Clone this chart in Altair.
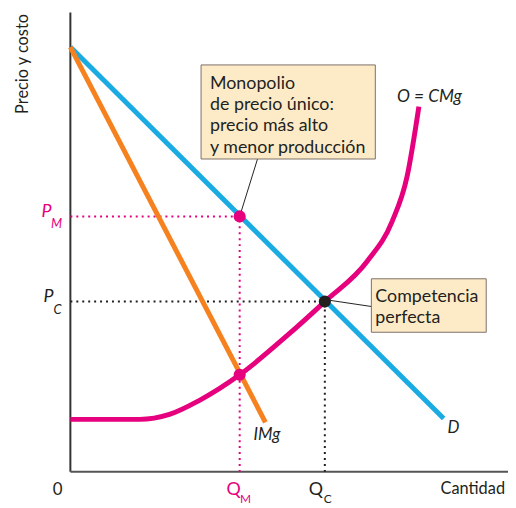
import altair as alt
import pandas as pd

# ---- data (units: quantity / price) ----
d_q = [0, 377]            # demand D
d_p = [429, 54]
mr_q = [0, 197]           # marginal revenue IMg
mr_p = [429, 50]
mc_q = [0, 70, 100, 130, 171, 217, 257, 300, 325, 340, 352]   # O = CMg
mc_p = [53, 53, 58, 72, 98, 136, 172, 213, 253, 298, 369]
q_m, p_m, mr_m = 171, 258, 98
q_c, p_c = 257, 172
box1_lines = ["Monopolio", "de precio único:", "precio más alto", "y menor producción"]
box2_lines = ["Competencia", "perfecta"]

XMAX, YMAX = 438, 464
FONT = "Lato"
BLUE, ORANGE, PINK, INK = "#1AABE3", "#F5821F", "#E6007E", "#231F20"

xs = alt.Scale(domain=[0, XMAX], nice=False, zero=False)
ys = alt.Scale(domain=[0, YMAX], nice=False, zero=False)


def X(f="x"):
    return alt.X(f, type="quantitative", scale=xs, axis=None)


def Y(f="y"):
    return alt.Y(f, type="quantitative", scale=ys, axis=None)


def seg(x1, y1, x2, y2, color, width=1.0, dash=None):
    df = pd.DataFrame({"x": [x1], "y": [y1], "x2": [x2], "y2": [y2]})
    kw = dict(color=color, strokeWidth=width)
    if dash:
        kw["strokeDash"] = dash
    return alt.Chart(df).mark_rule(**kw).encode(
        x=X(), y=Y(), x2="x2:Q", y2="y2:Q")


def line(qs, ps, color, interp="linear"):
    df = pd.DataFrame({"x": qs, "y": ps, "o": range(len(qs))})
    return alt.Chart(df).mark_line(color=color, strokeWidth=5, interpolate=interp,
                                   strokeCap="butt").encode(
        x=X(), y=Y(), order="o:Q")


def txt(x, y, s, color=INK, size=17, italic=False, align="left", baseline="middle", angle=0):
    df = pd.DataFrame({"x": [x], "y": [y], "t": [s]})
    kw = dict(color=color, fontSize=size, font=FONT, align=align, baseline=baseline)
    if italic:
        kw["fontStyle"] = "italic"
    if angle:
        kw["angle"] = angle
    return alt.Chart(df).mark_text(**kw).encode(x=X(), y=Y(), text="t:N")


def box(x1, y1, x2, y2):
    df = pd.DataFrame({"x": [x1], "y": [y1], "x2": [x2], "y2": [y2]})
    return alt.Chart(df).mark_rect(fill="#FDEBC8", stroke="#7d7066", strokeWidth=1).encode(
        x=X(), y=Y(), x2="x2:Q", y2="y2:Q")


layers = [
    # axes
    seg(0, 0, 0, YMAX, "#333333", 2),
    seg(0, 0, 442, 0, "#555555", 2),
    # guide lines
    seg(0, p_m, q_m, p_m, PINK, 2, [2, 4]),
    seg(q_m, 0, q_m, p_m, PINK, 2, [2, 4]),
    seg(0, p_c, q_c, p_c, INK, 2, [2, 4]),
    seg(q_c, 0, q_c, p_c, INK, 2, [2, 4]),
    # curves
    line(mc_q, mc_p, PINK, "monotone"),
    line(d_q, d_p, BLUE),
    line(mr_q, mr_p, ORANGE),
    # leader lines
    seg(189, 316, q_m, p_m, INK, 1),
    seg(q_c, p_c + 2, 304, 167, INK, 1),
    # boxes
    box(132, 411, 308, 316),
    box(304, 195, 420, 141),
]

pts = pd.DataFrame({"x": [q_m, q_m, q_c], "y": [p_m, mr_m, p_c], "c": [PINK, PINK, INK]})
layers.append(alt.Chart(pts).mark_point(filled=True, size=150, opacity=1, shape="circle").encode(
    x=X(), y=Y(), color=alt.Color("c:N", scale=None)))

for i, s in enumerate(box1_lines):
    layers.append(txt(141, 387 - 21.5 * i, s, size=18, baseline="alphabetic"))
for i, s in enumerate(box2_lines):
    layers.append(txt(308, 172 - 22 * i, s, size=18, baseline="alphabetic"))

layers += [
    txt(-48, 412, "Precio y costo", size=16.5, align="center", angle=270),
    txt(-24, 262, "P", PINK, 18, True, "center"),
    txt(-14, 250, "M", PINK, 13, True, "center"),
    txt(-22, 177, "P", INK, 18, True, "center"),
    txt(-13, 163, "C", INK, 13, True, "center"),
    txt(165, -18, "Q", PINK, 18, False, "center"),
    txt(177, -27, "M", PINK, 12, False, "center"),
    txt(248, -18, "Q", INK, 18, False, "center"),
    txt(260, -27, "C", INK, 12, False, "center"),
    txt(-13, -18, "0", INK, 17, False, "center"),
    txt(439, -17, "Cantidad", INK, 16.5, False, "right"),
    txt(387, 44, "D", INK, 17, True, "center"),
    txt(185, 37, "IMg", INK, 17, True, "left"),
    txt(330, 379, "O = CMg", INK, 17.5, True, "left"),
]

chart = alt.layer(*layers).properties(
    width=XMAX, height=YMAX, autosize="none",
    padding={"left": 63, "top": 2, "right": 4, "bottom": 34},
).configure_view(stroke=None)

chart.save("out.html", embed_options={"renderer": "svg", "actions": False})
